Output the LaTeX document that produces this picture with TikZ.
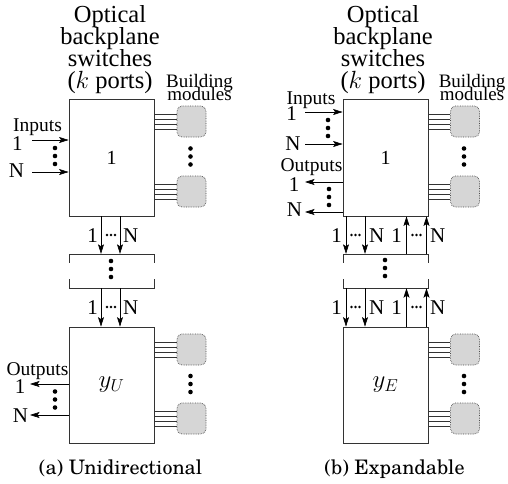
\documentclass[tikz,border=0pt]{standalone}
\usepackage{fontspec}
\setmainfont{Liberation Serif}
\newfontfamily\capfont{TeX Gyre Schola}
\usetikzlibrary{arrows.meta}
\newcommand\mytight{\lineskiplimit=-100pt\relax\lineskip=0pt\relax}
\begin{document}
\begin{tikzpicture}[x=1pt,y=-1pt,
  swbox/.style={draw=black!80,line width=0.8pt,minimum width=85pt,minimum height=117pt,inner sep=0pt,font=\fontsize{20}{20}\selectfont},
  mathlab/.style={font=\fontsize{24}{24}\selectfont},
  modbox/.style={draw=black!70,densely dotted,line width=0.7pt,fill=black!16,rounded corners=5pt,minimum width=29pt,minimum height=31pt,inner sep=0pt},
  brframe/.style={minimum width=85pt,minimum height=34pt,inner sep=0pt},
  arr/.style={-{Stealth[length=9.5pt,width=6pt,inset=2pt]},line width=0.6pt},
  wire/.style={line width=0.6pt,black!80},
  lbl/.style={font=\fontsize{21}{21}\selectfont,inner sep=0pt},
  side/.style={font=\fontsize{19.5}{19.5}\selectfont,inner sep=0pt},
  ttl/.style={font={\fontsize{24.5}{21.7}\selectfont\mytight},align=center,inner sep=0pt},
  bmlab/.style={font={\fontsize{19}{13.4}\selectfont\mytight},align=center,inner sep=0pt},
  captxt/.style={font={\capfont\fontsize{20}{20}\selectfont},inner sep=0pt},
  vd/.pic={\foreach \i in {-1,0,1} \fill (0,\i*8) circle (2.3pt);},
  hd/.pic={\foreach \i in {-1,0,1} \fill (\i*4,0) circle (1.4pt);}
]
\useasboundingbox (0,0) rectangle (508,483);

% ---------------- (a) Unidirectional ----------------
\node[ttl,anchor=base] (atitle) at (110,88) {Optical\\backplane\\switches\\($k$ ports)};
\node[bmlab,anchor=base] (abm) at (199.5,100.7) {Building\\modules};

\node[swbox] (a1) at (111.5,157.5) {1};
\node[brframe] (abr) at (111.5,271) {};
\node[swbox,mathlab,minimum height=116pt] (a2) at (111.5,385) {$y_U$};

\draw[wire] ([yshift=-9pt]abr.north west) -- (abr.north west) -- (abr.north east) -- ([yshift=-9pt]abr.north east);
\draw[wire] ([yshift=9pt]abr.south west) -- (abr.south west) -- (abr.south east) -- ([yshift=9pt]abr.south east);
\pic at (111,269) {vd};

\foreach \dx in {-10.5,8.5} {
  \draw[arr] ([xshift=\dx pt]a1.south) -- ([xshift=\dx pt]abr.north);
  \draw[arr] ([xshift=\dx pt]abr.south) -- ([xshift=\dx pt]a2.north);
}
\node[lbl,anchor=base east] (au1) at (98,242) {1};
\node[lbl,anchor=base west] (auN) at (123,242) {N};
\pic at (111,235) {hd};
\node[lbl,anchor=base east] (al1) at (98,314) {1};
\node[lbl,anchor=base west] (alN) at (123,314) {N};
\pic at (111,307) {hd};

\node[modbox] (am1) at (191.5,121.5) {};
\node[modbox] (am2) at (191.5,191.5) {};
\node[modbox] (am3) at (191.5,349.5) {};
\node[modbox] (am4) at (191.5,418.5) {};
\foreach \m/\b in {am1/a1,am2/a1,am3/a2,am4/a2}
  \foreach \d in {-7.5,-2.5,2.5,7.5}
    \draw[wire] ([yshift=\d pt]\m.west) -- ([yshift=\d pt]\m.west -| \b.east);
\pic at (190.5,156.5) {vd};
\pic at (190.5,384) {vd};

\node[side,anchor=base] (ainl) at (37.5,131) {Inputs};
\node[lbl,anchor=base] (ai1l) at (17.5,150) {1};
\node[lbl,anchor=base] (aiNl) at (16.5,177) {N};
\coordinate (ai1) at (32,140);
\coordinate (aiN) at (32,172);
\draw[arr] (ai1) -- (ai1 -| a1.west);
\draw[arr] (aiN) -- (aiN -| a1.west);
\pic at (55,156) {vd};

\node[side,anchor=base] (aoutl) at (37.5,375) {Outputs};
\node[lbl,anchor=base] (ao1l) at (20,393) {1};
\node[lbl,anchor=base] (aoNl) at (20.5,422) {N};
\coordinate (ao1) at (30,384);
\coordinate (aoN) at (30,415);
\draw[arr] (ao1 -| a2.west) -- (ao1);
\draw[arr] (aoN -| a2.west) -- (aoN);
\pic at (55,399.5) {vd};

\node[captxt,anchor=base] (capa) at (120.5,474) {(a) Unidirectional};

% ---------------- (b) Expandable ----------------
\node[ttl,anchor=base] (btitle) at (383,88) {Optical\\backplane\\switches\\($k$ ports)};
\node[bmlab,anchor=base] (bbm) at (472,100.7) {Building\\modules};

\node[swbox] (b1) at (385.5,157.5) {1};
\node[brframe] (bbr) at (385.5,271) {};
\node[swbox,mathlab,minimum height=116pt] (b2) at (385.5,385) {$y_E$};

\draw[wire] ([yshift=-9pt]bbr.north west) -- (bbr.north west) -- (bbr.north east) -- ([yshift=-9pt]bbr.north east);
\draw[wire] ([yshift=9pt]bbr.south west) -- (bbr.south west) -- (bbr.south east) -- ([yshift=9pt]bbr.south east);
\pic at (385,268) {vd};

\foreach \dx in {-39.5,-20.5} {
  \draw[arr] ([xshift=\dx pt]b1.south) -- ([xshift=\dx pt]bbr.north);
  \draw[arr] ([xshift=\dx pt]bbr.south) -- ([xshift=\dx pt]b2.north);
}
\foreach \dx in {21,41} {
  \draw[arr] ([xshift=\dx pt]bbr.north) -- ([xshift=\dx pt]b1.south);
  \draw[arr] ([xshift=\dx pt]b2.north) -- ([xshift=\dx pt]bbr.south);
}
\node[lbl,anchor=base east] (bu1) at (342,242) {1};
\node[lbl,anchor=base west] (buN) at (369,242) {N};
\node[lbl,anchor=base east] (bu1r) at (402,242) {1};
\node[lbl,anchor=base west] (buNr) at (430,242) {N};
\pic at (355.5,235) {hd};
\pic at (416.5,235) {hd};
\node[lbl,anchor=base east] (bl1) at (342,314) {1};
\node[lbl,anchor=base west] (blN) at (369,314) {N};
\node[lbl,anchor=base east] (bl1r) at (402,314) {1};
\node[lbl,anchor=base west] (blNr) at (430,314) {N};
\pic at (355.5,307) {hd};
\pic at (416.5,307) {hd};

\node[modbox] (bm1) at (465,121.5) {};
\node[modbox] (bm2) at (465,191.5) {};
\node[modbox] (bm3) at (465,349.5) {};
\node[modbox] (bm4) at (465,418.5) {};
\foreach \m/\b in {bm1/b1,bm2/b1,bm3/b2,bm4/b2}
  \foreach \d in {-7.5,-2.5,2.5,7.5}
    \draw[wire] ([yshift=\d pt]\m.west) -- ([yshift=\d pt]\m.west -| \b.east);
\pic at (464,156.5) {vd};
\pic at (464,384) {vd};

\node[side,anchor=base] (binl) at (311,104) {Inputs};
\node[lbl,anchor=base] (bi1l) at (291.5,120) {1};
\node[lbl,anchor=base] (biNl) at (293,150) {N};
\coordinate (bi1) at (305,112);
\coordinate (biN) at (305,144);
\draw[arr] (bi1) -- (bi1 -| b1.west);
\draw[arr] (biN) -- (biN -| b1.west);
\pic at (328,128) {vd};

\node[side,anchor=base] (boutl) at (311.5,171) {Outputs};
\node[lbl,anchor=base] (bo1l) at (294,191) {1};
\node[lbl,anchor=base] (boNl) at (294.5,216) {N};
\coordinate (bo1) at (305,182);
\coordinate (boN) at (305,212);
\draw[arr] (bo1 -| b1.west) -- (bo1);
\draw[arr] (boN -| b1.west) -- (boN);
\pic at (329,197) {vd};

\node[captxt,anchor=base] (capb) at (394.5,474) {(b) Expandable};
\end{tikzpicture}
\end{document}
